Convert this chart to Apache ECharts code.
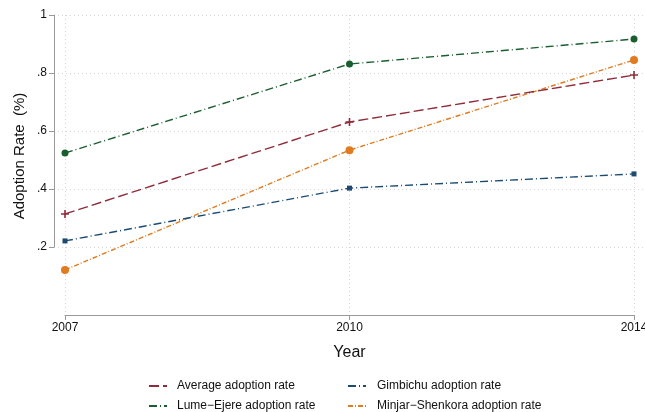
<!DOCTYPE html>
<html><head><meta charset="utf-8">
<script src="https://cdn.jsdelivr.net/npm/echarts@6/dist/echarts.min.js"></script>
<style>html,body{margin:0;padding:0;background:#fff}#c{width:645px;height:412px}</style>
</head><body><div id="c"></div>
<script>
const years = ['2007', '2010', '2014'];
const averageRate = [0.314, 0.631, 0.793];
const lumeEjereRate = [0.524, 0.831, 0.917];
const gimbichuRate = [0.221, 0.403, 0.452];
const minjarShenkoraRate = [0.121, 0.534, 0.845];
const yTicks = [0.2, 0.4, 0.6, 0.8, 1];

const FONT = '"Liberation Sans", Arial, sans-serif';
const plus = 'path://M4,0H6V4H10V6H6V10H4V6H0V4H4Z';

function mk(name, data, color, dash, symbol, size, z) {
  return {
    name, type: 'line', data, xAxisIndex: 0, yAxisIndex: 0,
    symbol, symbolSize: size, showSymbol: true,
    lineStyle: { color, width: 1.4, type: dash },
    itemStyle: { color, borderWidth: 0 },
    z, animation: false, emphasis: { disabled: true }
  };
}

const chart = echarts.init(document.getElementById('c'), null, { renderer: 'canvas' });
chart.setOption({
  animation: false,
  textStyle: { fontFamily: FONT },
  grid: [
    { left: 65, right: 11, top: 15, bottom: 97, outerBoundsMode: 'none', containLabel: false },
    { left: 54, right: 0, top: 15, height: 232, outerBoundsMode: 'none', containLabel: false }
  ],
  xAxis: [
    {
      type: 'category', data: years, boundaryGap: false, gridIndex: 0,
      axisLine: { onZero: false, lineStyle: { color: '#999', width: 1 } },
      axisTick: { show: true, length: 5, lineStyle: { color: '#999' } },
      axisLabel: { color: '#111', fontSize: 12, margin: 7, fontFamily: FONT, showMaxLabel: true, showMinLabel: true },
      splitLine: { show: true, lineStyle: { color: '#d6d6d6', type: [1, 3], width: 1 } },
      name: 'Year', nameLocation: 'middle', nameGap: 30,
      nameTextStyle: { color: '#111', fontSize: 16, fontFamily: FONT }
    },
    { type: 'value', gridIndex: 1, show: false, min: 0, max: 1 }
  ],
  yAxis: [
    {
      type: 'value', gridIndex: 0, min: -0.0345, max: 1,
      axisLine: { show: false }, axisTick: { show: false }, axisLabel: { show: false },
      splitLine: { show: false },
      name: 'Adoption Rate  (%)', nameLocation: 'middle', nameGap: 38, nameRotate: 90,
      nameTextStyle: { color: '#111', fontSize: 15, fontFamily: FONT, padding: [0, 0, 0, 18] }
    },
    {
      type: 'value', gridIndex: 1, min: yTicks[0], max: yTicks[yTicks.length - 1], interval: 0.2,
      axisLine: { show: true, lineStyle: { color: '#999', width: 1 } },
      axisTick: { show: true, length: 5, lineStyle: { color: '#999' } },
      axisLabel: { color: '#111', fontSize: 12, margin: 7, fontFamily: FONT,
        formatter: v => { const s = (+v.toFixed(2)).toString(); return s.replace(/^0\./, '.'); } },
      splitLine: { show: true, lineStyle: { color: '#d6d6d6', type: [1, 3], width: 1 } }
    }
  ],
  legend: [
    {
      orient: 'vertical', left: 148, top: 380, padding: 0, height: 40, itemGap: 8, itemWidth: 18, itemHeight: 12,
      data: ['Average adoption rate', 'Lume\u2212Ejere adoption rate'],
      textStyle: { color: '#111', fontSize: 12, fontFamily: FONT, padding: [0, 0, 0, 5] },
      itemStyle: { opacity: 0 }, selectedMode: false
    },
    {
      orient: 'vertical', left: 347, top: 380, padding: 0, height: 40, itemGap: 8, itemWidth: 18, itemHeight: 12,
      data: ['Gimbichu adoption rate', 'Minjar\u2212Shenkora adoption rate'],
      textStyle: { color: '#111', fontSize: 12, fontFamily: FONT, padding: [0, 0, 0, 6] },
      itemStyle: { opacity: 0 }, selectedMode: false
    }
  ],
  series: [
    mk('Average adoption rate', averageRate, '#8e2c3a', [10, 4], plus, 8, 4),
    mk('Gimbichu adoption rate', gimbichuRate, '#1b4b73', [8, 3, 1, 3], 'rect', 5, 3),
    mk('Lume\u2212Ejere adoption rate', lumeEjereRate, '#1a5e30', [8, 3, 1, 3], 'circle', 7, 5),
    mk('Minjar\u2212Shenkora adoption rate', minjarShenkoraRate, '#e07b20', [5, 2, 1, 2], 'circle', 8, 2)
  ]
});
</script></body></html>
